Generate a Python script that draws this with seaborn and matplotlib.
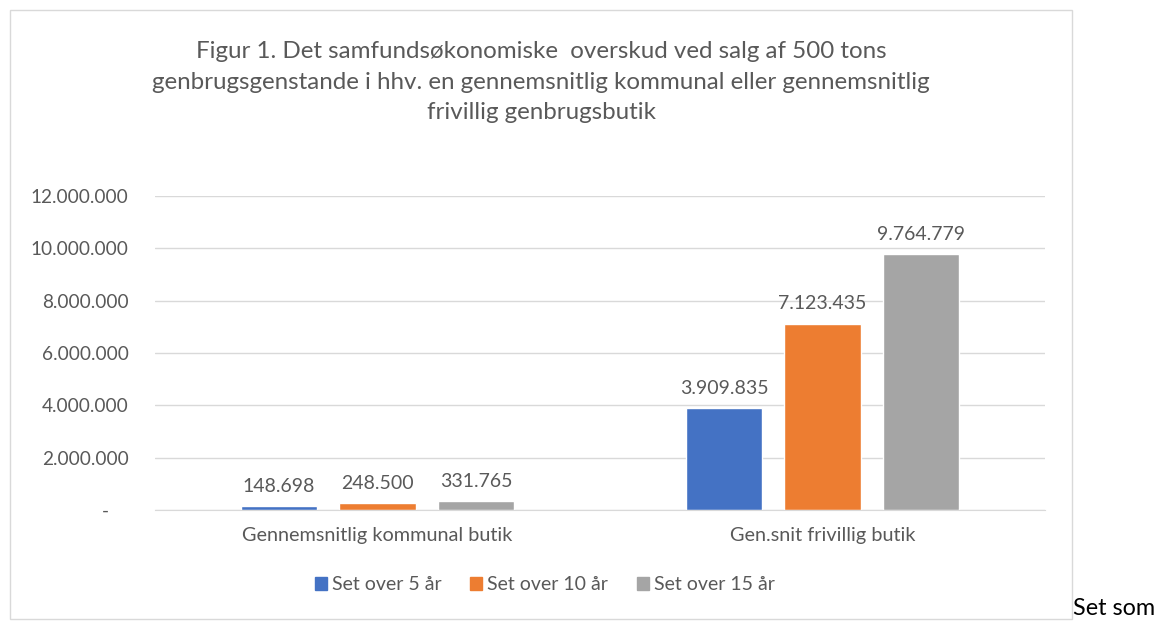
import pandas as pd
import matplotlib
matplotlib.use('Agg')
import matplotlib.pyplot as plt
import seaborn as sns
from matplotlib.patches import Rectangle

# data
butikker = ['Gennemsnitlig kommunal butik', 'Gen.snit frivillig butik']
perioder = ['Set over 5 år', 'Set over 10 år', 'Set over 15 år']
set_5 = [148698, 3909835]
set_10 = [248500, 7123435]
set_15 = [331765, 9764779]
y_ticks = [0, 2000000, 4000000, 6000000, 8000000, 10000000, 12000000]

farver = ['#4472C4', '#ED7D31', '#A5A5A5']
tekst = '#595959'

rows = []
for periode, vals in zip(perioder, [set_5, set_10, set_15]):
    for butik, v in zip(butikker, vals):
        rows.append({'butik': butik, 'periode': periode, 'overskud': v})
df = pd.DataFrame(rows)


def dk(v):
    return f'{v:,.0f}'.replace(',', '.')


sns.set_style('white')
plt.rcParams['font.family'] = ['Lato', 'DejaVu Sans']

fig = plt.figure(figsize=(11.64, 6.23), dpi=100)
ax = fig.add_axes([0.1332, 0.1814, 0.7646, 0.504])

sns.barplot(data=df, x='butik', y='overskud', hue='periode', palette=farver,
            width=0.664, gap=0.22, saturation=1, ax=ax)

for cont, vals in zip(ax.containers, [set_5, set_10, set_15]):
    ax.bar_label(cont, labels=[dk(v) for v in vals], padding=8,
                 fontsize=14, color=tekst)

ax.set_ylim(0, 12000000)
ax.set_xlim(-0.5, 1.5)
ax.set_yticks(y_ticks)
ax.set_yticklabels(['-    '] + [dk(v) for v in y_ticks[1:]])
ax.yaxis.grid(True, color='#d9d9d9', lw=1)
ax.set_axisbelow(True)
for s in ['top', 'right', 'left']:
    ax.spines[s].set_visible(False)
ax.spines['bottom'].set_color('#d9d9d9')
ax.tick_params(axis='y', length=0, pad=19, labelsize=13.7, labelcolor=tekst)
ax.tick_params(axis='x', length=0, pad=12, labelsize=14.3, labelcolor=tekst)
ax.set_xlabel('')
ax.set_ylabel('')

ax.legend_.remove()
handles = [Rectangle((0, 0), 1, 1, color=c) for c in farver]
fig.legend(handles, perioder, loc='center', bbox_to_anchor=(0.468, 0.061),
           ncol=3, frameon=False, fontsize=14, labelcolor=tekst,
           handlelength=0.6, handleheight=0.6, handletextpad=0.25,
           columnspacing=1.5)

fig.text(0.4648, 0.868,
         'Figur 1. Det samfundsøkonomiske  overskud ved salg af 500 tons\n'
         'genbrugsgenstande i hhv. en gennemsnitlig kommunal eller gennemsnitlig\n'
         'frivillig genbrugsbutik',
         ha='center', va='center', fontsize=17.4, color=tekst, linespacing=1.55)

fig.add_artist(Rectangle((10 / 1164, 1 - 619 / 623), 1062 / 1164, 609 / 623,
                         transform=fig.transFigure, fill=False,
                         edgecolor='#d9d9d9', lw=1))
fig.text(1073 / 1164, 1 - 619 / 623, 'Set som', ha='left', va='bottom',
         fontsize=16.8, color='black')

fig.savefig('out.png', dpi=100, facecolor='white')
